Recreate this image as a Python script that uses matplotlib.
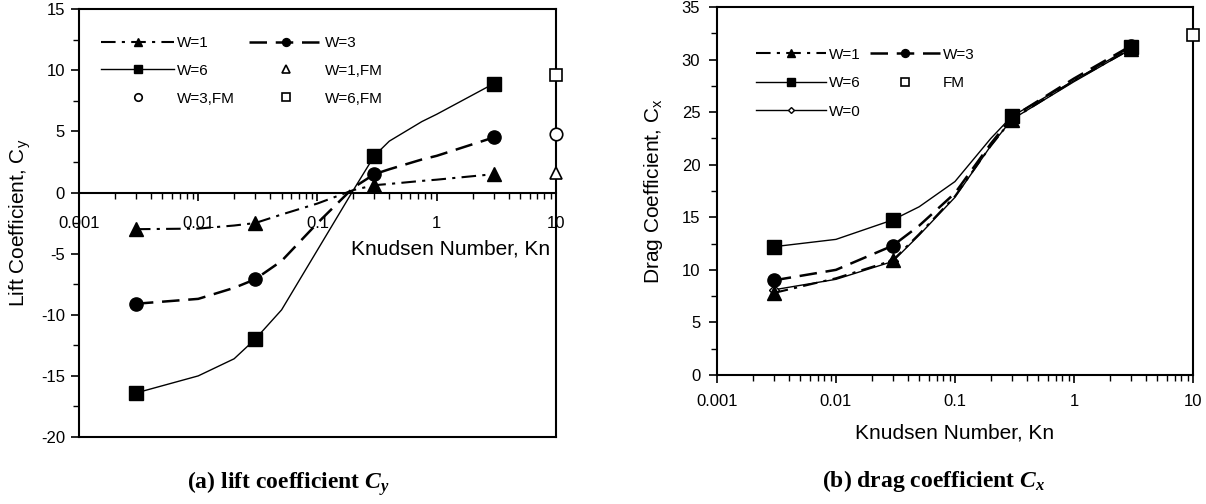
import matplotlib
matplotlib.use("Agg")
import matplotlib.pyplot as plt
import matplotlib.ticker as mticker

plt.rcParams['font.family'] = ['Liberation Sans', 'DejaVu Sans']
plt.rcParams['axes.unicode_minus'] = False
plt.rcParams['mathtext.fontset'] = 'custom'
plt.rcParams['mathtext.rm'] = 'Liberation Serif'
plt.rcParams['mathtext.it'] = 'Liberation Serif:italic'
plt.rcParams['mathtext.bf'] = 'Liberation Serif:bold'
plt.rcParams['mathtext.bfit'] = 'Liberation Serif:italic:bold'
plt.rcParams['mathtext.sf'] = 'Liberation Sans'

# (a) lift coefficient data
kn_lift = [0.003, 0.01, 0.02, 0.03, 0.05, 0.1, 0.2, 0.3, 0.4, 0.75, 1, 3]
lift_w1 = [-3.0, -2.95, -2.7, -2.5, -1.8, -0.9, 0.2, 0.6, 0.7, 0.95, 1.05, 1.5]
lift_w3 = [-9.1, -8.7, -7.8, -7.1, -5.6, -2.5, 0.4, 1.5, 1.9, 2.7, 3.0, 4.5]
lift_w6 = [-16.4, -15.0, -13.6, -12.0, -9.6, -4.7, 0.2, 3.0, 4.2, 5.8, 6.4, 8.9]
lift_marks = [0, 3, 7, 11]
kn_fm = 10
lift_fm = {"W=1,FM": 1.6, "W=3,FM": 4.8, "W=6,FM": 9.6}

# (b) drag coefficient data
kn_drag = [0.003, 0.01, 0.03, 0.05, 0.1, 0.2, 0.3, 1, 3]
drag_w1 = [7.8, 9.2, 10.9, 13.4, 17.0, 21.8, 24.3, 28.0, 31.0]
drag_w3 = [9.0, 10.0, 12.3, 14.2, 17.3, 22.0, 24.5, 28.2, 31.3]
drag_w6 = [12.2, 12.9, 14.75, 16.0, 18.4, 22.5, 24.6, 28.0, 31.2]
drag_w0 = [8.1, 9.1, 10.8, 13.3, 16.9, 21.8, 24.3, 27.9, 31.0]
drag_marks = [0, 2, 6, 8]
drag_fm = 32.3

xticks = [0.001, 0.01, 0.1, 1, 10]
xticklabels = ["0.001", "0.01", "0.1", "1", "10"]

dashdot = (0, (7, 3, 1.5, 3))
dashed = (0, (7, 3.5))

fig = plt.figure(figsize=(12.06, 5.04), dpi=100)
ax1 = fig.add_axes([0.0655, 0.1329, 0.3955, 0.849])
ax2 = fig.add_axes([0.5945, 0.256, 0.3947, 0.730])


def style_xaxis(ax):
    ax.set_xscale('log')
    ax.set_xlim(0.001, 10)
    ax.set_xticks(xticks)
    ax.set_xticklabels(xticklabels)
    ax.xaxis.set_minor_locator(mticker.LogLocator(base=10, subs=range(2, 10), numticks=20))
    ax.xaxis.set_minor_formatter(mticker.NullFormatter())
    for s in ax.spines.values():
        s.set_linewidth(1.5)
    ax.tick_params(which='major', length=6, width=1.2, labelsize=12)
    ax.tick_params(which='minor', length=4, width=1.0)


# ---- lift
style_xaxis(ax1)
ax1.plot(kn_lift, lift_w1, color='k', lw=1.5, ls=dashdot, marker='^', ms=10,
         markevery=lift_marks, label="W=1")
ax1.plot(kn_lift, lift_w6, color='k', lw=1.0, ls='-', marker='s', ms=9.5,
         markevery=lift_marks, label="W=6")
ax1.plot([kn_fm], [lift_fm["W=3,FM"]], ls='none', marker='o', ms=9, mfc='white',
         mec='k', mew=1.2, clip_on=False, zorder=5, label="W=3,FM")
ax1.plot(kn_lift, lift_w3, color='k', lw=1.8, ls=dashed, marker='o', ms=9.5,
         markevery=lift_marks, label="W=3")
ax1.plot([kn_fm], [lift_fm["W=1,FM"]], ls='none', marker='^', ms=9, mfc='white',
         mec='k', mew=1.2, clip_on=False, zorder=5, label="W=1,FM")
ax1.plot([kn_fm], [lift_fm["W=6,FM"]], ls='none', marker='s', ms=8.5, mfc='white',
         mec='k', mew=1.2, clip_on=False, zorder=5, label="W=6,FM")

ax1.set_ylim(-20, 15)
ax1.yaxis.set_major_locator(mticker.MultipleLocator(5))
ax1.yaxis.set_minor_locator(mticker.MultipleLocator(2.5))
ax1.spines['bottom'].set_position(('data', 0))
ax1.axhline(-20, color='k', lw=1.5, clip_on=False)
ax1.tick_params(axis='x', which='major', pad=11)
ax1.tick_params(axis='y', which='major', pad=4)
ax1.set_ylabel("Lift Coefficient, C$_\\mathsf{y}$", fontsize=15, labelpad=6)
ax1.text(0.987, -4.6, "Knudsen Number, Kn", fontsize=15, ha='right', va='center',
         transform=ax1.get_yaxis_transform())
ax1.legend(ncol=2, loc='upper left', bbox_to_anchor=(0.03, 0.955), frameon=False,
           fontsize=11, handlelength=4.8, handletextpad=0.2, columnspacing=0.9,
           labelspacing=0.9, markerscale=0.6, borderpad=0)

# ---- drag
style_xaxis(ax2)
ax2.plot(kn_drag, drag_w0, color='k', lw=1.0, ls='-', marker='D', ms=5, mfc='white',
         mec='k', markevery=drag_marks, label="W=0", zorder=1)
ax2.plot(kn_drag, drag_w1, color='k', lw=1.5, ls=dashdot, marker='^', ms=10,
         markevery=drag_marks, label="W=1")
ax2.plot(kn_drag, drag_w6, color='k', lw=1.0, ls='-', marker='s', ms=9.5,
         markevery=drag_marks, label="W=6")
ax2.plot(kn_drag, drag_w3, color='k', lw=1.8, ls=dashed, marker='o', ms=9.5,
         markevery=drag_marks, label="W=3")
ax2.plot([kn_fm], [drag_fm], ls='none', marker='s', ms=8.5, mfc='white', mec='k',
         mew=1.2, clip_on=False, zorder=5, label="FM")

ax2.set_ylim(0, 35)
ax2.yaxis.set_major_locator(mticker.MultipleLocator(5))
ax2.yaxis.set_minor_locator(mticker.MultipleLocator(2.5))
ax2.tick_params(axis='x', which='major', pad=8)
ax2.tick_params(axis='y', which='major', pad=6)
ax2.set_ylabel("Drag Coefficient, C$_\\mathsf{x}$", fontsize=15, labelpad=12)
ax2.set_xlabel("Knudsen Number, Kn", fontsize=15, labelpad=10)
h, l = ax2.get_legend_handles_labels()
order = [1, 2, 0, 3, 4]
ax2.legend([h[i] for i in order], [l[i] for i in order], ncol=2, loc='upper left',
           bbox_to_anchor=(0.065, 0.91), frameon=False,
           fontsize=11, handlelength=4.6, handletextpad=0.2, columnspacing=0.6,
           labelspacing=0.95, markerscale=0.6, borderpad=0)

fig.text(289 / 1206, 1 - 484 / 504, "(a) lift coefficient $\\mathbfit{C_y}$",
         family='Liberation Serif', weight='bold', fontsize=17, ha='center', va='center')
fig.text(934 / 1206, 1 - 481 / 504, "(b) drag coefficient $\\mathbfit{C_x}$",
         family='Liberation Serif', weight='bold', fontsize=17, ha='center', va='center')

fig.savefig("out.png", dpi=100)
